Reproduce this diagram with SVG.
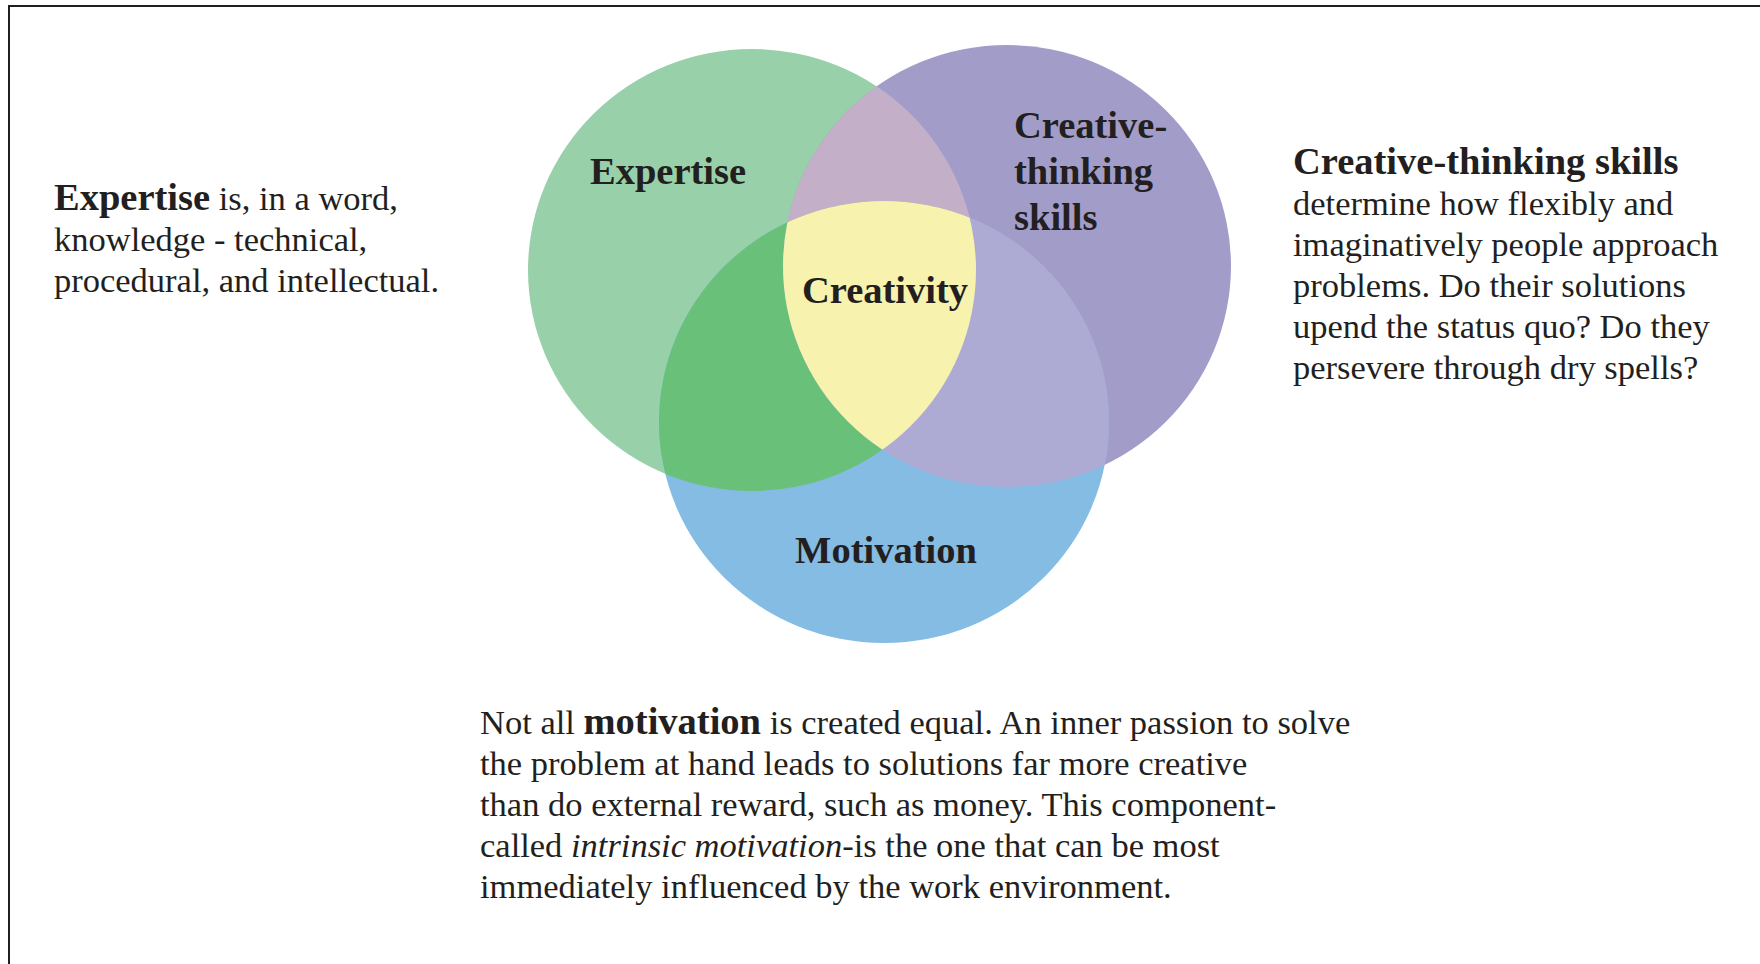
<svg xmlns="http://www.w3.org/2000/svg" width="1760" height="964" viewBox="0 0 1760 964">
  <style>
    text { font-family: "Liberation Serif", "Times New Roman", serif; fill: #231f20; }
    .body { font-size: 34.5px; }
    .b { font-weight: bold; font-size: 38.5px; }
    .lbl { font-weight: bold; font-size: 38.5px; }
    .it { font-style: italic; }
  </style>
  <defs>
    <clipPath id="cG"><ellipse cx="752" cy="270" rx="224" ry="221"/></clipPath>
    <clipPath id="cP"><ellipse cx="1007" cy="266" rx="224" ry="221"/></clipPath>
    <clipPath id="cB"><ellipse cx="884" cy="422" rx="225" ry="221"/></clipPath>
  </defs>
  <rect x="0" y="0" width="1760" height="964" fill="#ffffff"/>
  <path d="M9,964 V6 H1760" fill="none" stroke="#231f20" stroke-width="2"/>

  <g id="venn">
    <g id="expertise">
      <ellipse cx="752" cy="270" rx="224" ry="221" fill="#98d0a9"/>
    </g>
    <g id="creative-thinking">
      <ellipse cx="1007" cy="266" rx="224" ry="221" fill="#a29dc8"/>
    </g>
    <g id="motivation">
      <ellipse cx="884" cy="422" rx="225" ry="221" fill="#84bce4"/>
    </g>
    <g id="overlaps">
      <ellipse cx="1007" cy="266" rx="224" ry="221" fill="#c3b0c8" clip-path="url(#cG)"/>
      <ellipse cx="884" cy="422" rx="225" ry="221" fill="#69c078" clip-path="url(#cG)"/>
      <ellipse cx="884" cy="422" rx="225" ry="221" fill="#adabd4" clip-path="url(#cP)"/>
      <g clip-path="url(#cG)">
        <ellipse cx="884" cy="422" rx="225" ry="221" fill="#f7f2ae" clip-path="url(#cP)"/>
      </g>
    </g>
    <g id="labels">
      <text class="lbl" x="590" y="184">Expertise</text>
      <text class="lbl" x="1014" y="137.5">Creative-</text>
      <text class="lbl" x="1014" y="184">thinking</text>
      <text class="lbl" x="1014" y="230">skills</text>
      <text class="lbl" x="885" y="303" text-anchor="middle">Creativity</text>
      <text class="lbl" x="886" y="563" text-anchor="middle">Motivation</text>
    </g>
  </g>

  <g id="text-expertise" class="body">
    <text x="54" y="209.5"><tspan class="b">Expertise</tspan> is, in a word,</text>
    <text x="54" y="250.5">knowledge - technical,</text>
    <text x="54" y="291.5">procedural, and intellectual.</text>
  </g>

  <g id="text-creative" class="body">
    <text class="b" x="1293" y="174">Creative-thinking skills</text>
    <text x="1293" y="215">determine how flexibly and</text>
    <text x="1293" y="256">imaginatively people approach</text>
    <text x="1293" y="297">problems. Do their solutions</text>
    <text x="1293" y="338">upend the status quo? Do they</text>
    <text x="1293" y="379">persevere through dry spells?</text>
  </g>

  <g id="text-motivation" class="body">
    <text x="480" y="734">Not all <tspan class="b">motivation</tspan> is created equal. An inner passion to solve</text>
    <text x="480" y="775">the problem at hand leads to solutions far more creative</text>
    <text x="480" y="816">than do external reward, such as money. This component-</text>
    <text x="480" y="857">called <tspan class="it">intrinsic motivation</tspan>-is the one that can be most</text>
    <text x="480" y="898">immediately influenced by the work environment.</text>
  </g>
</svg>
